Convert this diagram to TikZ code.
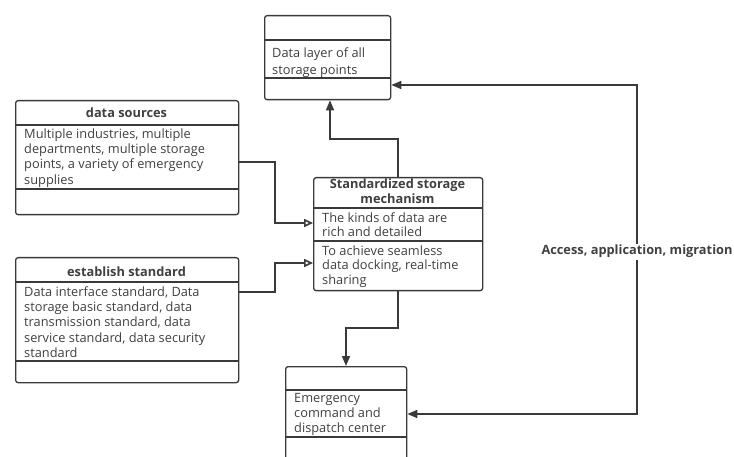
\documentclass[tikz,border=0pt]{standalone}
\usepackage{fontspec}
\setmainfont{Open Sans}
\usetikzlibrary{arrows.meta}
\definecolor{ln}{HTML}{3A3A3A}
\definecolor{tx}{HTML}{404040}
\tikzset{
 box/.style={draw=ln, line width=1.3pt, rounded corners=2.5pt, fill=white, inner sep=0pt, anchor=north west},
 sep/.style={draw=ln, line width=1.1pt},
 txt/.style={anchor=north west, inner sep=0pt, align=left, text=tx, font=\fontsize{12.8}{15.3}\selectfont},
 ttl/.style={anchor=north, inner sep=0pt, align=center, text=tx, font=\fontsize{12.8}{15.3}\selectfont\bfseries},
 conn/.style={draw=ln, line width=1.6pt},
 openarr/.style={conn, -{Triangle[open, length=9pt, width=8pt, fill=white]}},
 fillarr/.style={conn, -{Triangle[length=10pt, width=8pt]}},
 bothfill/.style={conn, {Triangle[length=10pt, width=8pt]}-{Triangle[length=10pt, width=8pt]}},
}
\begin{document}
\begin{tikzpicture}[x=1pt,y=-1pt]
\useasboundingbox[fill=white] (0,0) rectangle (734,457);

% top box
\node[box, minimum width=126pt, minimum height=84pt] (top) at (264,15) {};
\draw[sep] (top.west |- 0,40) -- (top.east |- 0,40);
\draw[sep] (top.west |- 0,78) -- (top.east |- 0,78);
\node[txt, font=\fontsize{12.8}{17}\selectfont] (toptxt) at (272,45.8) {\strut Data layer of all\\storage points};

% data sources
\node[box, minimum width=223pt, minimum height=114pt] (ds) at (15,100) {};
\draw[sep] (ds.west |- 0,125) -- (ds.east |- 0,125);
\draw[sep] (ds.west |- 0,189) -- (ds.east |- 0,189);
\node[ttl] (dst) at (126.5,106.3) {\strut data sources};
\node[txt] (dsb) at (24,127.3) {\strut Multiple industries, multiple\\departments, multiple storage\\points, a variety of emergency\\supplies};

% establish standard
\node[box, minimum width=223pt, minimum height=125pt] (es) at (15,257) {};
\draw[sep] (es.west |- 0,282) -- (es.east |- 0,282);
\draw[sep] (es.west |- 0,361) -- (es.east |- 0,361);
\node[ttl] (est) at (126.5,265.3) {\strut establish standard};
\node[txt] (esb) at (24,285.3) {\strut Data interface standard, Data\\storage basic standard, data\\transmission standard, data\\service standard, data security\\standard};

% standardized storage mechanism
\node[box, minimum width=169pt, minimum height=113pt] (ssm) at (313,177) {};
\draw[sep] (ssm.west |- 0,208) -- (ssm.east |- 0,208);
\draw[sep] (ssm.west |- 0,241) -- (ssm.east |- 0,241);
\node[ttl, font=\fontsize{12.8}{15}\selectfont\bfseries] (ssmt) at (397.5,177.5) {\strut Standardized storage\\mechanism};
\node[txt, font=\fontsize{12.8}{14.5}\selectfont] (ssm1) at (322,211.8) {\strut The kinds of data are\\rich and detailed};
\node[txt, font=\fontsize{12.8}{14.5}\selectfont] (ssm2) at (322,244.8) {\strut To achieve seamless\\data docking, real-time\\sharing};

% emergency command
\node[box, minimum width=121pt, minimum height=110pt] (em) at (285,366) {};
\draw[sep] (em.west |- 0,390) -- (em.east |- 0,390);
\draw[sep] (em.west |- 0,437) -- (em.east |- 0,437);
\node[txt] (emt) at (294,391.3) {\strut Emergency\\command and\\dispatch center};

% connectors
\draw[openarr] (ds.east |- 0,162) -| (275,223) -- (ssm.west |- 0,223);
\draw[openarr] (es.east |- 0,292) -| (275,263) -- (ssm.west |- 0,263);
\draw[fillarr] (ssm.north) |- (330,139) -- (top.south -| 330,0);
\draw[fillarr] (ssm.south) |- (346,328) -- (em.north -| 346,0);
\draw[bothfill] (top.east |- 0,85) -| (637,414) -- (em.east |- 0,414);
\node[anchor=base, fill=white, inner sep=1.5pt, text=tx, font=\fontsize{12.8}{15}\selectfont\bfseries] (lbl) at (637,255) {Access, application, migration};
\end{tikzpicture}
\end{document}
